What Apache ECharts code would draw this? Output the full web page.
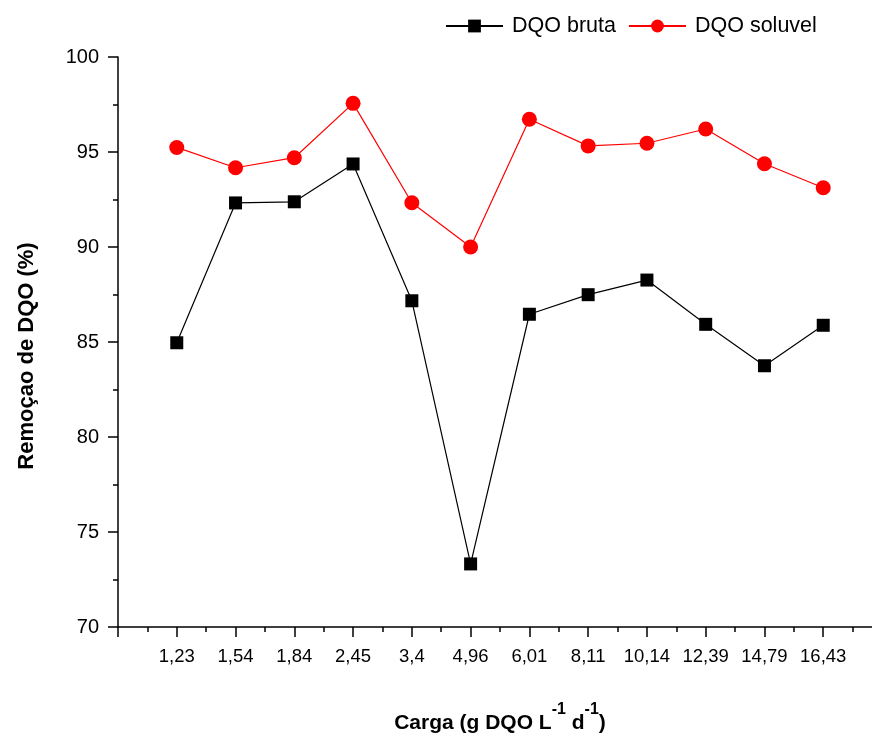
<!DOCTYPE html>
<html>
<head>
<meta charset="utf-8">
<script src="https://cdn.jsdelivr.net/npm/echarts@6/dist/echarts.min.js"></script>
<style>html,body{margin:0;padding:0;background:#fff;}#c{width:872px;height:734px;}</style>
</head>
<body>
<div id="c"></div>
<script>
const categories = ['1,23','1,54','1,84','2,45','3,4','4,96','6,01','8,11','10,14','12,39','14,79','16,43'];
const dqoBruta = [84.96, 92.32, 92.38, 94.37, 87.17, 73.32, 86.46, 87.49, 88.26, 85.93, 83.75, 85.88];
const dqoSoluvel = [95.24, 94.17, 94.70, 97.56, 92.33, 90.00, 96.72, 95.32, 95.46, 96.21, 94.38, 93.12];
const yTicks = [70, 75, 80, 85, 90, 95, 100];

const toPts = arr => arr.map((v, i) => [i + 1, v]);
const chart = echarts.init(document.getElementById('c'));
const font = 'Arial, "Liberation Sans", sans-serif';
chart.setOption({
  animation: false,
  backgroundColor: '#fff',
  grid: { left: 118, width: 764, top: 57, bottom: 107, containLabel: false, outerBoundsMode: 'none' },
  legend: {
    left: 440, top: 10, itemWidth: 57, itemHeight: 16, itemGap: 12,
    textStyle: { fontSize: 21.5, color: '#000', fontFamily: font, padding: [0, 0, 0, 4] },
    data: ['DQO bruta', 'DQO soluvel']
  },
  xAxis: {
    type: 'value', min: 0, max: categories.length + 1, interval: 1,
    axisLine: { onZero: false, lineStyle: { color: '#000', width: 1.5 } },
    axisTick: { show: true, length: 10, inside: false, lineStyle: { color: '#000', width: 1.5 } },
    minorTick: { show: true, splitNumber: 2, length: 5, lineStyle: { color: '#000', width: 1.5 } },
    splitLine: { show: false },
    axisLabel: {
      margin: 20, fontSize: 18.5, color: '#000', fontFamily: font,
      formatter: v => categories[v - 1] || ''
    },
    name: '{b|Carga (g DQO L}{s|-1}{b| d}{s|-1}{b|)}',
    nameLocation: 'middle', nameGap: 75,
    nameTextStyle: {
      rich: {
        b: { fontSize: 21, fontWeight: 'bold', fontFamily: font, color: '#000', verticalAlign: 'bottom', lineHeight: 32 },
        s: { fontSize: 16, fontWeight: 'bold', fontFamily: font, color: '#000', verticalAlign: 'top', lineHeight: 32 }
      }
    }
  },
  yAxis: {
    type: 'value', min: yTicks[0], max: yTicks[yTicks.length - 1], interval: 5,
    axisLine: { show: true, onZero: false, lineStyle: { color: '#000', width: 1.5 } },
    axisTick: { show: true, length: 10, lineStyle: { color: '#000', width: 1.5 } },
    minorTick: { show: true, splitNumber: 2, length: 5, lineStyle: { color: '#000', width: 1.5 } },
    splitLine: { show: false },
    axisLabel: { margin: 19, fontSize: 20, color: '#000', fontFamily: font },
    name: 'Remoçao de DQO (%)',
    nameLocation: 'middle', nameGap: 80, nameRotate: 90,
    nameTextStyle: { fontSize: 22, fontWeight: 'bold', color: '#000', fontFamily: font, padding: [0, 28, 0, 0] }
  },
  series: [
    {
      name: 'DQO bruta', type: 'line', data: toPts(dqoBruta),
      symbol: 'rect', symbolSize: 13,
      itemStyle: { color: '#000' },
      lineStyle: { color: '#000', width: 1.2 }
    },
    {
      name: 'DQO soluvel', type: 'line', data: toPts(dqoSoluvel),
      symbol: 'circle', symbolSize: 15,
      itemStyle: { color: '#ff0000' },
      lineStyle: { color: '#ff0000', width: 1.2 }
    }
  ]
});
</script>
</body>
</html>
